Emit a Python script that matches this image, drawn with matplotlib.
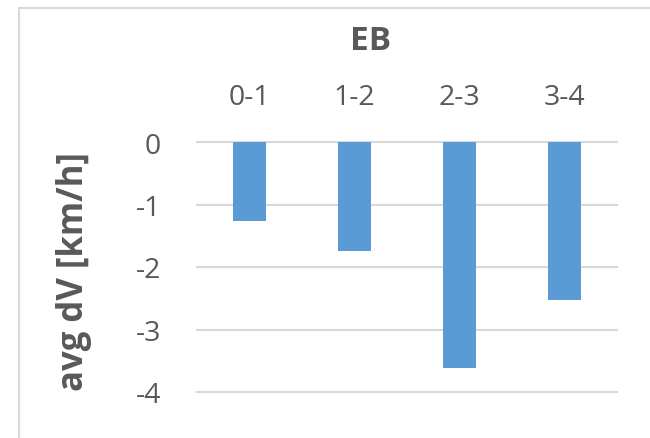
import matplotlib
matplotlib.use("Agg")
import matplotlib.pyplot as plt
from matplotlib.patches import Rectangle

categories = ["0-1", "1-2", "2-3", "3-4"]
values = [-1.26, -1.75, -3.61, -2.52]
yticks = [0, -1, -2, -3, -4]
title = "EB"
ylabel = "avg dV [km/h]"

plt.rcParams['font.family'] = ['Open Sans', 'DejaVu Sans']
W, H = 650, 439
fig = plt.figure(figsize=(W / 100, H / 100), dpi=100)
fig.patch.set_facecolor("white")

# chart-area border (extends beyond right/bottom edges)
fig.patches.append(Rectangle((19 / W, -0.5), 2.0, 1 - 9 / H + 0.5,
                             transform=fig.transFigure, fill=False,
                             edgecolor="#D9D9D9", linewidth=1.5))

x0, x1 = 197, 617
y0, y1 = 143, 393
ax = fig.add_axes([x0 / W, 1 - y1 / H, (x1 - x0) / W, (y1 - y0) / H])
ax.bar(range(len(categories)), values, width=0.31, color="#5B9BD5", zorder=3)
ax.set_xlim(-0.5, len(categories) - 0.5)
ax.set_ylim(-4, 0)
ax.set_yticks(yticks)
ax.set_yticklabels([str(v) for v in yticks])
ax.set_xticks(range(len(categories)))
ax.set_xticklabels(categories)
ax.xaxis.tick_top()
ax.tick_params(axis="both", length=0, labelsize=20.5, colors="#595959")
ax.tick_params(axis="x", pad=22)
ax.tick_params(axis="y", pad=26)
for s in ax.spines.values():
    s.set_visible(False)
ax.yaxis.grid(True, color="#D9D9D9", linewidth=1.5, zorder=0)
for gl in ax.yaxis.get_gridlines():
    gl.set_clip_on(False)
ax.set_axisbelow(True)

fig.text(371 / W, 1 - 42 / H, title, ha="center", va="center",
         fontsize=24, fontweight="bold", color="#595959")
fig.text(74 / W, 1 - 272 / H, ylabel, ha="center", va="center", rotation=90,
         fontsize=25, fontweight="bold", color="#595959")

fig.savefig("out.png", dpi=100, facecolor="white")
